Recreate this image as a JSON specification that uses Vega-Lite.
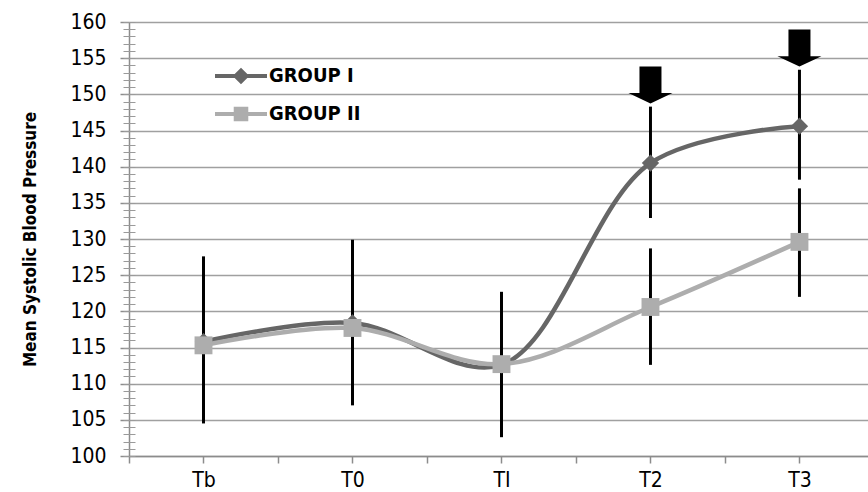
{
  "$schema": "https://vega.github.io/schema/vega-lite/v6.json",
  "width": 739,
  "height": 434,
  "autosize": {"type": "none"},
  "padding": {"left": 129, "top": 22, "right": 0, "bottom": 36},
  "background": "white",
  "config": {
    "view": {"stroke": null},
    "font": "DejaVu Sans Condensed, sans-serif",
    "axis": {"labelFont": "DejaVu Sans Condensed, sans-serif", "titleFont": "DejaVu Sans Condensed, sans-serif"},
    "legend": {"labelFont": "DejaVu Sans Condensed, sans-serif"}
  },
  "datasets": {
    "series": [
      {"t": 0, "g": "GROUP I", "v": 115.8},
      {"t": 1, "g": "GROUP I", "v": 118.4},
      {"t": 2, "g": "GROUP I", "v": 112.6},
      {"t": 3, "g": "GROUP I", "v": 140.5},
      {"t": 4, "g": "GROUP I", "v": 145.6},
      {"t": 0, "g": "GROUP II", "v": 115.3},
      {"t": 1, "g": "GROUP II", "v": 117.7},
      {"t": 2, "g": "GROUP II", "v": 112.7},
      {"t": 3, "g": "GROUP II", "v": 120.6},
      {"t": 4, "g": "GROUP II", "v": 129.6}
    ],
    "errors": [
      {"t": 0, "lo": 104.5, "hi": 127.6},
      {"t": 1, "lo": 107.0, "hi": 129.9},
      {"t": 2, "lo": 102.6, "hi": 122.7},
      {"t": 3, "lo": 132.9, "hi": 148.3},
      {"t": 3, "lo": 112.6, "hi": 128.7},
      {"t": 4, "lo": 138.2, "hi": 153.4},
      {"t": 4, "lo": 122.0, "hi": 137.0}
    ],
    "arrows": [
      {"t": 3, "y": 151.3},
      {"t": 4, "y": 156.4}
    ]
  },
  "resolve": {"axis": {"x": "independent", "y": "independent"}},
  "layer": [
    {
      "data": {"name": "errors"},
      "mark": {"type": "rule", "color": "black", "strokeWidth": 3},
      "encoding": {
        "x": {"field": "t", "type": "quantitative",
          "scale": {"domain": [-0.5, 4.46], "nice": false, "zero": false},
          "axis": {"values": [0, 1, 2, 3, 4], "labelExpr": "['Tb','T0','TI','T2','T3'][datum.value]",
            "title": null, "grid": false, "domainColor": "#8c8c8c", "domainWidth": 1.5, "orient": "bottom",
            "tickColor": "#8c8c8c", "tickWidth": 1.5, "tickSize": 7,
            "labelFontSize": 21, "labelColor": "black", "labelPadding": 6}},
        "y": {"field": "lo", "type": "quantitative",
          "scale": {"domain": [100, 160], "nice": false, "zero": false},
          "axis": {"values": [100, 105, 110, 115, 120, 125, 130, 135, 140, 145, 150, 155, 160],
            "title": "Mean Systolic Blood Pressure", "titleFontSize": 17, "titleFontWeight": "bold",
            "titleColor": "black", "titlePadding": 30, "orient": "left",
            "grid": true, "gridColor": "#a0a0a0", "gridWidth": 1.5,
            "domainColor": "#8c8c8c", "domainWidth": 1.5, "tickColor": "#8c8c8c", "tickWidth": 1.5,
            "tickSize": 9, "labelFontSize": 21, "labelColor": "black", "labelPadding": 14}},
        "y2": {"field": "hi"}
      }
    },
    {
      "data": {"name": "series"},
      "mark": {"type": "line", "interpolate": "catmull-rom", "strokeWidth": 4.5},
      "encoding": {
        "x": {"field": "t", "type": "quantitative",
          "axis": {"values": [-0.5, 0.5, 1.5, 2.5, 3.5], "labels": false, "domain": false, "grid": false, "orient": "bottom",
            "title": null, "tickColor": "#8c8c8c", "tickWidth": 1.5, "tickSize": 7}},
        "y": {"field": "v", "type": "quantitative",
          "axis": {"values": [100,101,102,103,104,105,106,107,108,109,110,111,112,113,114,115,116,117,118,119,120,121,122,123,124,125,126,127,128,129,130,131,132,133,134,135,136,137,138,139,140,141,142,143,144,145,146,147,148,149,150,151,152,153,154,155,156,157,158,159,160],
            "labels": false, "domain": false, "grid": false, "title": null, "orient": "left",
            "offset": -6, "tickSize": 12, "tickColor": "#9a9a9a", "tickWidth": 1}},
        "color": {"field": "g", "type": "nominal",
          "scale": {"domain": ["GROUP I", "GROUP II"], "range": ["#666666", "#adadad"]},
          "legend": {"title": null, "orient": "none", "legendX": 86, "legendY": 28,
            "labelFontSize": 20, "labelFontWeight": "bold", "labelColor": "black", "labelOffset": 2,
            "symbolSize": 2704, "symbolStrokeWidth": 0, "rowPadding": 2,
            "encode": {"symbols": {"update": {
              "shape": {"signal": "datum.value === 'GROUP I' ? 'M-1,-0.08L1,-0.08L1,0.08L-1,0.08Z M-0.32,0L0,-0.32L0.32,0L0,0.32Z' : 'M-1,-0.08L1,-0.08L1,0.08L-1,0.08Z M-0.28,-0.28L0.28,-0.28L0.28,0.28L-0.28,0.28Z'"},
              "fill": {"signal": "datum.value === 'GROUP I' ? '#666666' : '#adadad'"},
              "size": {"value": 2704},
              "stroke": {"value": null},
              "strokeWidth": {"value": 0},
              "opacity": {"value": 1}
            }}}}}
      }
    },
    {
      "data": {"name": "series"},
      "transform": [{"filter": "datum.g === 'GROUP I'"}],
      "mark": {"type": "point", "filled": true, "opacity": 1, "shape": "diamond", "size": 300, "color": "#666666"},
      "encoding": {
        "x": {"field": "t", "type": "quantitative", "axis": null},
        "y": {"field": "v", "type": "quantitative", "axis": null}
      }
    },
    {
      "data": {"name": "series"},
      "transform": [{"filter": "datum.g === 'GROUP II'"}],
      "mark": {"type": "point", "filled": true, "opacity": 1, "shape": "square", "size": 320, "color": "#adadad"},
      "encoding": {
        "x": {"field": "t", "type": "quantitative", "axis": null},
        "y": {"field": "v", "type": "quantitative", "axis": null}
      }
    },
    {
      "data": {"name": "arrows"},
      "mark": {"type": "point", "filled": true, "color": "black", "opacity": 1, "size": 1936,
        "shape": "M-0.5,-0.84L0.5,-0.84L0.5,0.37L1,0.37L0,0.84L-1,0.37L-0.5,0.37Z"},
      "encoding": {
        "x": {"field": "t", "type": "quantitative", "axis": null},
        "y": {"field": "y", "type": "quantitative", "axis": null}
      }
    }
  ]
}
